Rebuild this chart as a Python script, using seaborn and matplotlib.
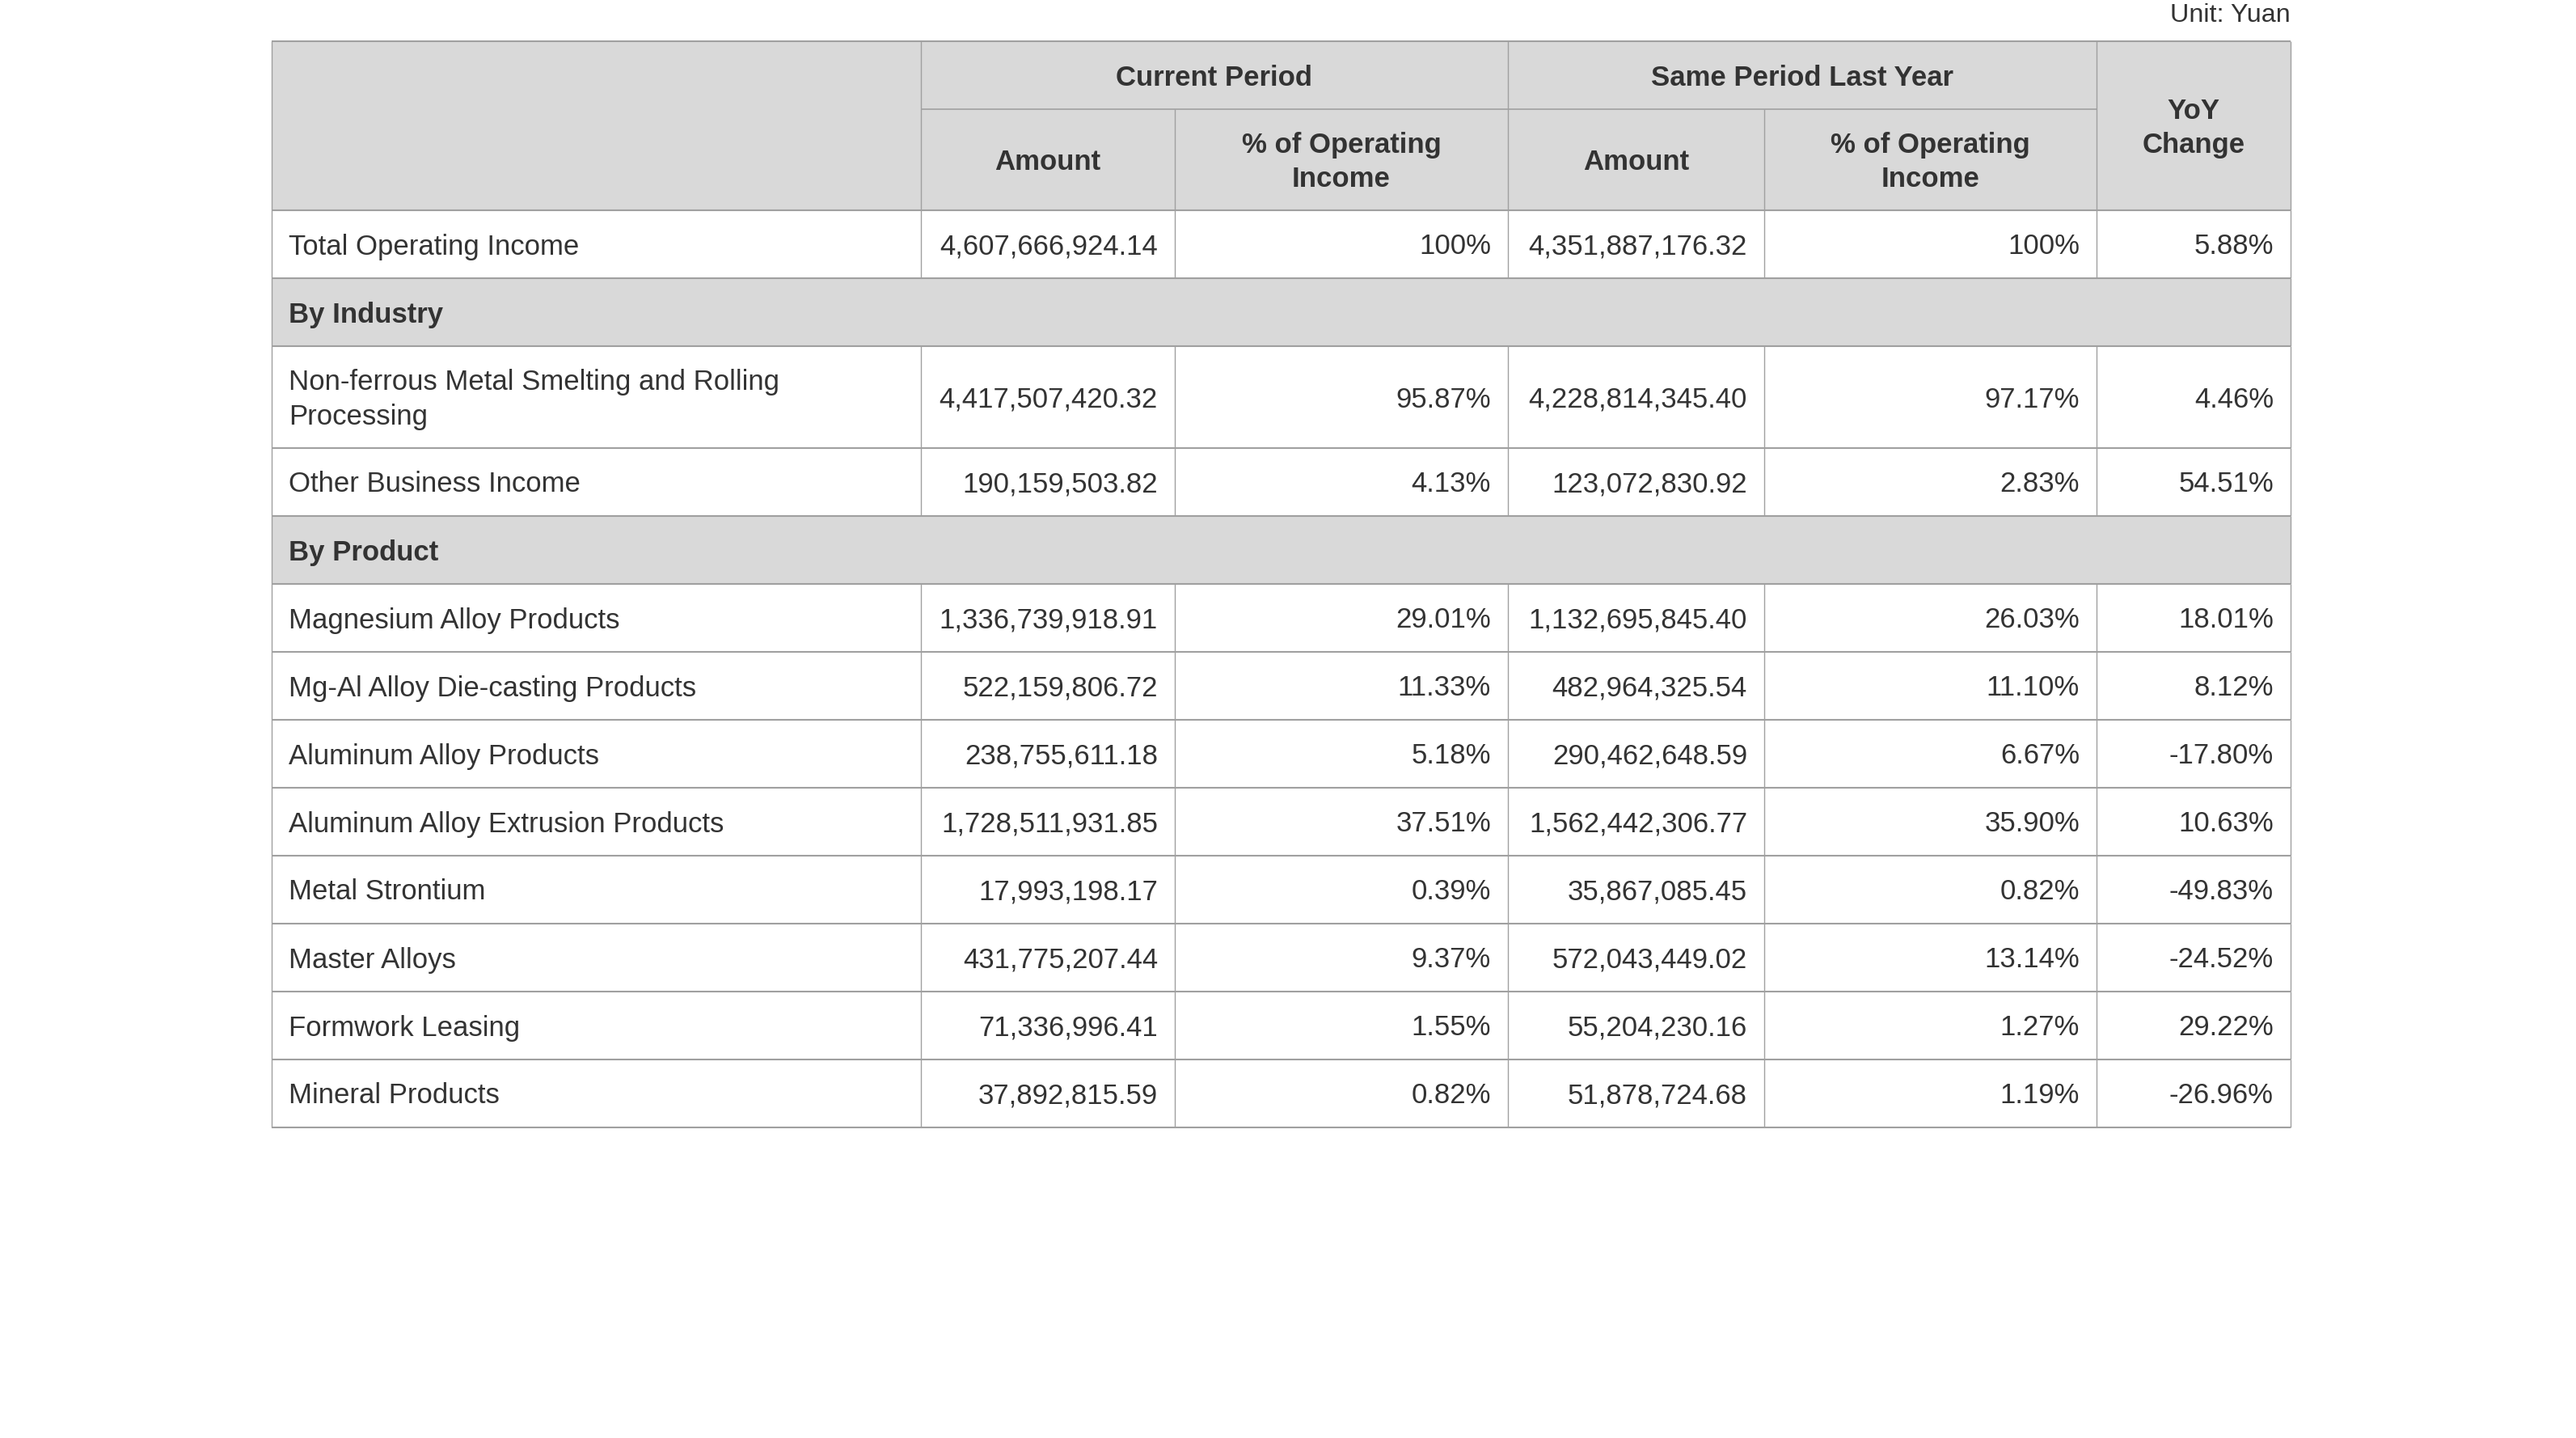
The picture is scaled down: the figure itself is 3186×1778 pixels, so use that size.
import matplotlib
matplotlib.use("Agg")
import matplotlib.pyplot as plt
from matplotlib.patches import Rectangle
import seaborn as sns

# --- table content ---
unit_note = "Unit: Yuan"
group_headers = ["Current Period", "Same Period Last Year"]
sub_headers = ["Amount", "% of Operating\nIncome"]
yoy_header = "YoY\nChange"

total_label = "Total Operating Income"
total_cur_amount = "4,607,666,924.14"
total_cur_pct = "100%"
total_prev_amount = "4,351,887,176.32"
total_prev_pct = "100%"
total_yoy = "5.88%"

industry_title = "By Industry"
industry_labels = ["Non-ferrous Metal Smelting and Rolling\nProcessing", "Other Business Income"]
industry_cur_amount = ["4,417,507,420.32", "190,159,503.82"]
industry_cur_pct = ["95.87%", "4.13%"]
industry_prev_amount = ["4,228,814,345.40", "123,072,830.92"]
industry_prev_pct = ["97.17%", "2.83%"]
industry_yoy = ["4.46%", "54.51%"]

product_title = "By Product"
product_labels = ["Magnesium Alloy Products", "Mg-Al Alloy Die-casting Products",
                  "Aluminum Alloy Products", "Aluminum Alloy Extrusion Products",
                  "Metal Strontium", "Master Alloys", "Formwork Leasing", "Mineral Products"]
product_cur_amount = ["1,336,739,918.91", "522,159,806.72", "238,755,611.18", "1,728,511,931.85",
                      "17,993,198.17", "431,775,207.44", "71,336,996.41", "37,892,815.59"]
product_cur_pct = ["29.01%", "11.33%", "5.18%", "37.51%", "0.39%", "9.37%", "1.55%", "0.82%"]
product_prev_amount = ["1,132,695,845.40", "482,964,325.54", "290,462,648.59", "1,562,442,306.77",
                       "35,867,085.45", "572,043,449.02", "55,204,230.16", "51,878,724.68"]
product_prev_pct = ["26.03%", "11.10%", "6.67%", "35.90%", "0.82%", "13.14%", "1.27%", "1.19%"]
product_yoy = ["18.01%", "8.12%", "-17.80%", "10.63%", "-49.83%", "-24.52%", "29.22%", "-26.96%"]

# build the row sequence: ("data", label, values) or ("section", title)
rows = [("data", total_label, [total_cur_amount, total_cur_pct, total_prev_amount,
                               total_prev_pct, total_yoy])]
rows.append(("section", industry_title, None))
for i, lab in enumerate(industry_labels):
    rows.append(("data", lab, [industry_cur_amount[i], industry_cur_pct[i],
                               industry_prev_amount[i], industry_prev_pct[i], industry_yoy[i]]))
rows.append(("section", product_title, None))
for i, lab in enumerate(product_labels):
    rows.append(("data", lab, [product_cur_amount[i], product_cur_pct[i],
                               product_prev_amount[i], product_prev_pct[i], product_yoy[i]]))

# --- layout (pixels) ---
W, H = 3186, 1778
col_edges = [336, 1139, 1453, 1865, 2182, 2593, 2833]
top = 51
head_h = [84, 125]
line_h = 84
extra_line_h = 42
pad = 21
dy = 3          # small nudge so text sits like the reference
lsp = 1.38

header_bg = "#d9d9d9"
border = "#a0a0a0"
text_col = "#333333"
fs = 25

sns.set_theme(style="white")
plt.rcParams["font.family"] = ["Liberation Sans", "DejaVu Sans"]

fig = plt.figure(figsize=(W / 100, H / 100), dpi=100)
ax = fig.add_axes([0, 0, 1, 1])
ax.set_xlim(0, W)
ax.set_ylim(H, 0)
ax.axis("off")

left, right = col_edges[0], col_edges[-1]


def hline(y, x0=left, x1=right, lw=1.5):
    ax.plot([x0, x1], [y, y], color=border, lw=lw, solid_capstyle="butt", zorder=3)


def vline(x, y0, y1, lw=1.0):
    ax.plot([x, x], [y0, y1], color=border, lw=lw, solid_capstyle="butt", zorder=3)


# unit note
ax.text(right, top - 32, unit_note, ha="right", va="center", fontsize=fs * 0.93, color=text_col)

# header block
h0 = top
h1 = top + head_h[0]
h2 = h1 + head_h[1]
ax.add_patch(Rectangle((left, h0), right - left, h2 - h0, facecolor=header_bg, edgecolor="none", zorder=1))
hline(h0)
hline(h1, col_edges[1], col_edges[5], lw=1.2)
hline(h2)
for x in (col_edges[0], col_edges[1], col_edges[3], col_edges[5], col_edges[6]):
    vline(x, h0, h2)
for x in (col_edges[2], col_edges[4]):
    vline(x, h1, h2)

for g, title in enumerate(group_headers):
    xa, xb = col_edges[1 + 2 * g], col_edges[3 + 2 * g]
    ax.text((xa + xb) / 2, (h0 + h1) / 2 + dy, title, ha="center", va="center",
            fontsize=fs, fontweight="bold", color=text_col)
    for k, sub in enumerate(sub_headers):
        ca, cb = col_edges[1 + 2 * g + k], col_edges[2 + 2 * g + k]
        ax.text((ca + cb) / 2, (h1 + h2) / 2 + dy, sub, ha="center", va="center",
                fontsize=fs, fontweight="bold", color=text_col, linespacing=lsp)
ax.text((col_edges[5] + col_edges[6]) / 2, (h0 + h2) / 2 + dy, yoy_header, ha="center", va="center",
        fontsize=fs, fontweight="bold", color=text_col, linespacing=lsp)

# body rows
y = h2
for kind, label, values in rows:
    rh = line_h + extra_line_h * label.count("\n")
    yc = y + rh / 2 + dy
    if kind == "section":
        ax.add_patch(Rectangle((left, y), right - left, rh, facecolor=header_bg,
                               edgecolor="none", zorder=1))
        ax.text(left + pad, yc, label, ha="left", va="center", fontsize=fs,
                fontweight="bold", color=text_col)
        vline(left, y, y + rh)
        vline(right, y, y + rh)
    else:
        ax.text(left + pad, yc, label, ha="left", va="center", fontsize=fs,
                color=text_col, linespacing=lsp)
        for j, val in enumerate(values):
            ax.text(col_edges[j + 2] - pad, yc, val, ha="right", va="center",
                    fontsize=fs, color=text_col)
        for x in col_edges:
            vline(x, y, y + rh)
    y += rh
    hline(y)

fig.savefig("out.png", dpi=100)
